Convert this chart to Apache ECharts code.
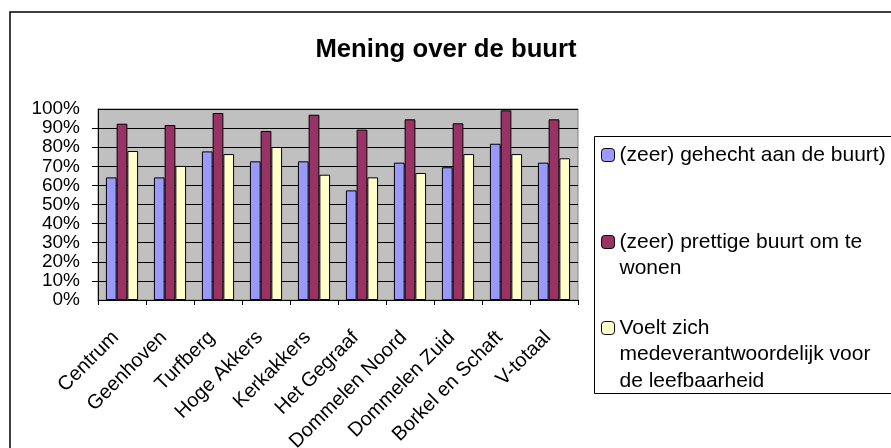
<!DOCTYPE html>
<html>
<head>
<meta charset="utf-8">
<script src="https://cdn.jsdelivr.net/npm/echarts@6/dist/echarts.min.js"></script>
<style>
  html, body { margin: 0; padding: 0; background: #fff; }
  #chart { width: 891px; height: 448px; }
</style>
</head>
<body>
<div id="chart"></div>
<script>
  // wijken (categorieen)
  var wijken = ['Centrum', 'Geenhoven', 'Turfberg', 'Hoge Akkers', 'Kerkakkers', 'Het Gegraaf',
    'Dommelen Noord', 'Dommelen Zuid', 'Borkel en Schaft', 'V-totaal'];
  var seriesNames = ['(zeer) gehecht aan de buurt)', '(zeer) prettige buurt om te wonen',
    'Voelt zich medeverantwoordelijk voor de leefbaarheid'];
  // legenda tekst zoals afgebroken in het origineel
  var legendLines = [
    ['(zeer) gehecht aan de buurt)'],
    ['(zeer) prettige buurt om te', 'wonen'],
    ['Voelt zich', 'medeverantwoordelijk voor', 'de leefbaarheid']
  ];
  var gehecht = [64.2, 64.2, 77.8, 72.6, 72.6, 57.4, 71.9, 69.5, 81.8, 71.9];
  var prettig = [92.3, 91.6, 97.9, 88.5, 97.0, 89.2, 94.6, 92.5, 99.3, 94.6];
  var verantwoordelijk = [78.0, 70.2, 76.4, 80.1, 65.6, 64.2, 66.5, 76.4, 76.4, 74.2];
  var seriesColor = ['#9999FF', '#993366', '#FFFFCC'];

  var font = '"Liberation Sans", Arial, sans-serif';
  var lineH = 26.5;
  var iconY = [155, 242, 328]; // midden van het icoon per legenda-item

  var chart = echarts.init(document.getElementById('chart'));

  var legends = legendLines.map(function (lines, i) {
    var pad = (lines.length - 1) * lineH;
    var half = (lines.length * lineH + pad) / 2;
    return {
      data: [seriesNames[i]],
      orient: 'vertical',
      left: 601,
      top: iconY[i] - 6.5 - Math.max(0, half - 6.5),
      padding: 0,
      itemWidth: 13,
      itemHeight: 13,
      itemGap: 0,
      selectedMode: false,
      itemStyle: { borderColor: '#000', borderWidth: 1 },
      formatter: function () {
        return lines.map(function (l) { return '{t|' + l + '}'; }).join('\n');
      },
      textStyle: {
        fontFamily: font,
        fontSize: 21,
        color: '#000',
        lineHeight: lineH,
        padding: [pad, 0, 0, 0],
        rich: {
          t: { fontFamily: font, fontSize: 21, color: '#000', lineHeight: lineH }
        }
      }
    };
  });

  var data = [gehecht, prettig, verantwoordelijk];
  var series = data.map(function (values, i) {
    return {
      name: seriesNames[i],
      type: 'bar',
      data: values,
      barGap: 0,
      barCategoryGap: '33%',
      itemStyle: { color: seriesColor[i], borderColor: '#000', borderWidth: 1 }
    };
  });

  var yLabel = {
    formatter: '{value}%',
    margin: 18,
    fontFamily: font,
    fontSize: 19,
    color: '#000'
  };

  chart.setOption({
    animation: false,
    title: {
      text: 'Mening over de buurt',
      left: 441,
      textAlign: 'center',
      top: 32,
      textStyle: { fontFamily: font, fontSize: 25.7, fontWeight: 'bold', color: '#000' }
    },
    legend: legends,
    grid: {
      left: 98,
      right: 313,
      top: 109,
      bottom: 148,
      outerBoundsMode: 'none',
      show: true,
      backgroundColor: '#C0C0C0',
      borderColor: '#808080',
      borderWidth: 1
    },
    xAxis: {
      type: 'category',
      data: wijken,
      axisLine: { lineStyle: { color: '#000', width: 1 } },
      axisTick: { show: true, length: 5, lineStyle: { color: '#000' } },
      axisLabel: {
        rotate: 45,
        interval: 0,
        margin: 28,
        padding: [0, 9, 0, 0],
        fontFamily: font,
        fontSize: 20,
        color: '#000'
      }
    },
    yAxis: [
      {
        // 10% .. 90%, rasterlijnen en tickjes
        type: 'value',
        position: 'left',
        min: 0,
        max: 100,
        interval: 10,
        axisLine: { show: true, lineStyle: { color: '#000', width: 1 } },
        axisTick: { show: true, length: 6, lineStyle: { color: '#000' } },
        splitLine: { show: true, lineStyle: { color: '#000', width: 1 } },
        axisLabel: Object.assign({ showMinLabel: false, showMaxLabel: false }, yLabel)
      },
      {
        // alleen 0% en 100%
        type: 'value',
        position: 'left',
        offset: 0,
        min: 0,
        max: 100,
        interval: 100,
        axisLine: { show: false },
        axisTick: { show: false },
        splitLine: { show: false },
        axisLabel: Object.assign({ showMinLabel: true, showMaxLabel: true }, yLabel)
      }
    ],
    graphic: [
      { type: 'rect', shape: { x: 10, y: 12, width: 1000, height: 1000 }, style: { fill: null, stroke: '#000', lineWidth: 1.5 }, silent: true },
      { type: 'rect', shape: { x: 594.5, y: 136.5, width: 400, height: 257 }, style: { fill: null, stroke: '#000', lineWidth: 1 }, silent: true }
    ],
    series: series
  });
</script>
</body>
</html>
